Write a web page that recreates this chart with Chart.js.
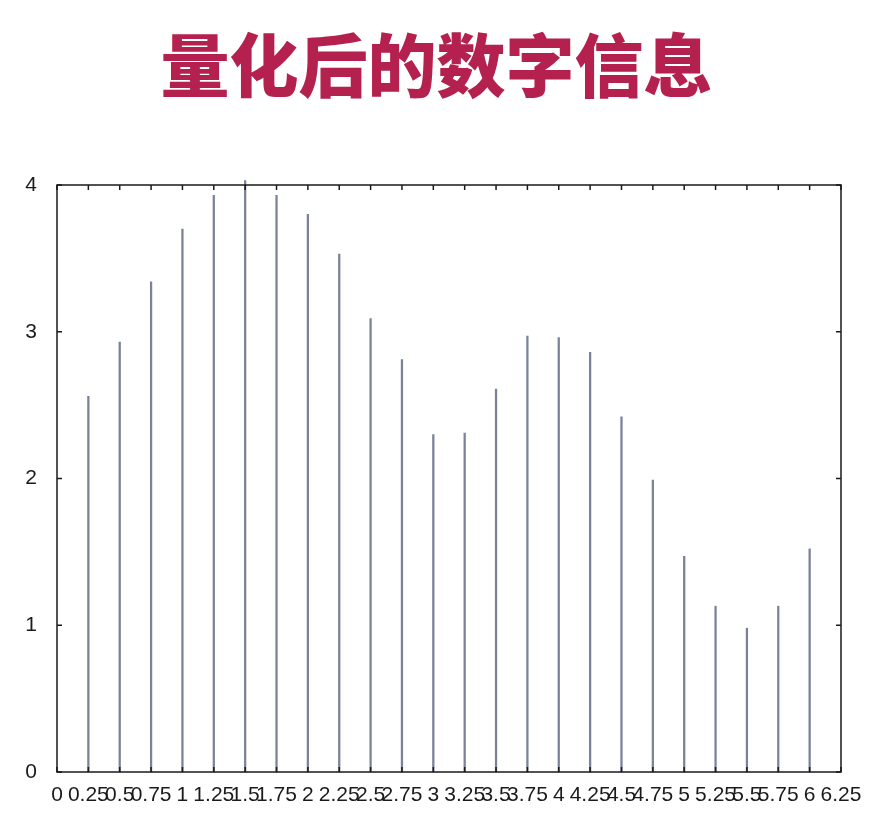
<!DOCTYPE html>
<html>
<head>
    <title>量化后的数字信息</title>
    <script src="https://cdn.jsdelivr.net/npm/chart.js"></script>
    <style>
        html, body {
            margin: 0;
            padding: 0;
            background: #ffffff;
        }
        #title {
            position: absolute;
            top: 28px;
            left: 0;
            width: 873px;
            text-align: center;
            font-family: "Noto Sans CJK SC", sans-serif;
            font-weight: 900;
            font-size: 69px;
            line-height: 69px;
            color: #b5214e;
            margin: 0;
        }
        .container {
            position: absolute;
            top: 0;
            left: 0;
            width: 879px;
            height: 821px;
        }
    </style>
</head>
<body>
    <h1 id="title">量化后的数字信息</h1>
    <div class="container">
        <canvas id="quantChart"></canvas>
    </div>

    <script>
        // sample positions and quantized values
        const samplePositions = [0.25, 0.5, 0.75, 1, 1.25, 1.5, 1.75, 2, 2.25, 2.5, 2.75, 3,
                                 3.25, 3.5, 3.75, 4, 4.25, 4.5, 4.75, 5, 5.25, 5.5, 5.75, 6];
        const sampleValues = [2.56, 2.93, 3.34, 3.70, 3.93, 4.03, 3.93, 3.80, 3.53, 3.09, 2.81, 2.30,
                              2.31, 2.61, 2.97, 2.96, 2.86, 2.42, 1.99, 1.47, 1.13, 0.98, 1.13, 1.52];
        const xRange = [0, 6.25];
        const xStep = 0.25;
        const yRange = [0, 4];
        const yStep = 1;

        const tickFont = { family: "'Liberation Sans', Arial, sans-serif", size: 21 };

        // draws the box frame with inward ticks on all four sides
        const frameTicks = {
            id: 'frameTicks',
            afterDraw(chart) {
                const ctx = chart.ctx;
                const area = chart.chartArea;
                const xs = chart.scales.x;
                const ys = chart.scales.y;
                const len = 5;
                ctx.save();
                ctx.strokeStyle = '#1a1a1a';
                ctx.lineWidth = 1.5;
                ctx.strokeRect(area.left, area.top, area.right - area.left, area.bottom - area.top);
                ctx.beginPath();
                xs.ticks.forEach(t => {
                    const px = xs.getPixelForValue(t.value);
                    ctx.moveTo(px, area.bottom);
                    ctx.lineTo(px, area.bottom - len);
                    ctx.moveTo(px, area.top);
                    ctx.lineTo(px, area.top + len);
                });
                ys.ticks.forEach(t => {
                    const py = ys.getPixelForValue(t.value);
                    ctx.moveTo(area.left, py);
                    ctx.lineTo(area.left + len, py);
                    ctx.moveTo(area.right, py);
                    ctx.lineTo(area.right - len, py);
                });
                ctx.stroke();
                ctx.restore();
            }
        };

        function createChart() {
            const ctx = document.getElementById('quantChart').getContext('2d');
            new Chart(ctx, {
                type: 'bar',
                data: {
                    datasets: [{
                        data: samplePositions.map((x, i) => ({ x: x, y: sampleValues[i] })),
                        backgroundColor: '#7b8198',
                        barThickness: 1.6,
                        clip: false
                    }]
                },
                options: {
                    responsive: true,
                    maintainAspectRatio: false,
                    animation: false,
                    layout: {
                        padding: { top: 185, right: 38, bottom: 0, left: 0 }
                    },
                    plugins: {
                        legend: { display: false },
                        tooltip: { enabled: false }
                    },
                    scales: {
                        x: {
                            type: 'linear',
                            min: xRange[0],
                            max: xRange[1],
                            offset: false,
                            grid: { display: false, drawTicks: false },
                            border: { display: false },
                            afterFit(scale) { scale.height = 49; },
                            ticks: {
                                stepSize: xStep,
                                autoSkip: false,
                                maxRotation: 0,
                                minRotation: 0,
                                padding: 11,
                                color: '#1a1a1a',
                                font: tickFont,
                                callback: v => String(v)
                            }
                        },
                        y: {
                            min: yRange[0],
                            max: yRange[1],
                            grid: { display: false, drawTicks: false },
                            border: { display: false },
                            afterFit(scale) { scale.width = 57; },
                            ticks: {
                                stepSize: yStep,
                                padding: 20,
                                color: '#1a1a1a',
                                font: tickFont
                            }
                        }
                    }
                },
                plugins: [frameTicks]
            });
        }

        createChart();
    </script>
</body>
</html>
